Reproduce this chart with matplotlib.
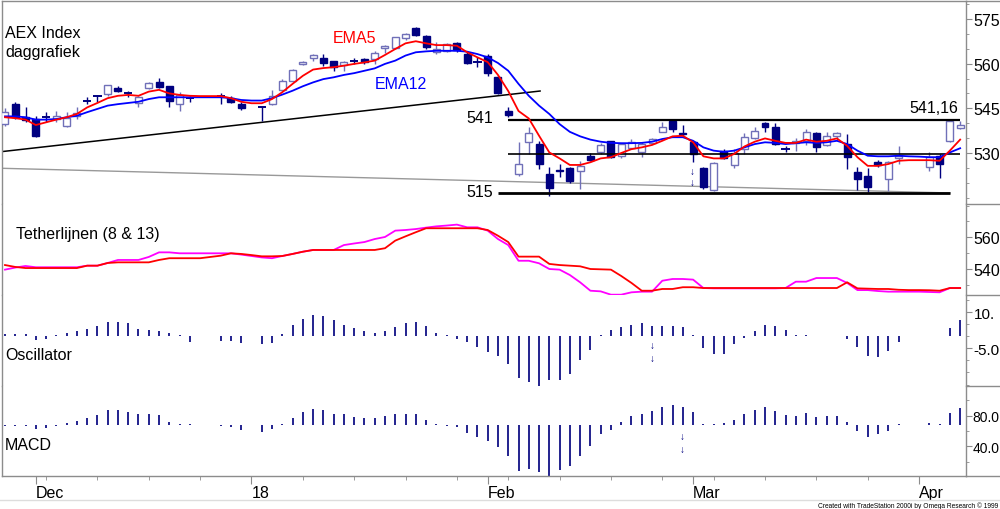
import numpy as np
import pandas as pd
import matplotlib
matplotlib.use('Agg')
import matplotlib.pyplot as plt
from matplotlib.lines import Line2D
from matplotlib.ticker import MultipleLocator, FixedLocator

plt.rcParams['font.family'] = ['Liberation Sans', 'DejaVu Sans']

nan = np.nan

# trading days, late Nov 2017 .. early Apr 2018 (holidays kept as empty bars)
dates = pd.bdate_range('2017-11-28', '2018-04-06')

opens = [539.7, 546.4, 542.0, 541.4, 542.0, 541.4, 539.1, 542.4, 547.4, 549.0,
         549.8, 551.8, 550.0, 546.8, 551.8, 553.8, 552.5, 546.4, 548.5, nan,
         nan, 549.1, 548.5, 546.4, nan, 545.4, 546.4, 551.2, 554.3, 559.8,
         562.0, 561.8, 560.9, 559.5, 560.8, 561.5, 561.5, 565.1, 565.1, 568.5,
         571.8, 569.4, 564.0, 564.3, 567.0, 563.2, 560.4, 562.5, 555.4, 544.2,
         523.0, 533.8, 533.0, 523.0, 524.2, 524.9, 523.9, 528.9, 530.4, 534.1,
         529.1, 531.6, 530.2, 533.5, 536.9, 540.8, 536.8, 533.6, 524.9, 517.7,
         530.8, 526.0, 531.3, 535.0, 540.0, 538.6, 531.3, 533.5, 534.1, 536.7,
         532.7, 535.6, 533.0, 523.7, 522.4, 527.1, 521.3, 528.2, nan, nan,
         525.2, 528.9, 534.1, 538.3]
highs = [545.1, 547.1, 545.5, 542.4, 543.8, 544.1, 543.8, 545.4, 548.8, 549.5,
         552.8, 552.5, 550.8, 549.0, 553.8, 555.2, 552.5, 550.5, 549.2, nan,
         nan, 550.0, 549.2, 547.1, nan, 545.6, 551.2, 554.8, 558.3, 561.0,
         563.2, 563.2, 561.0, 561.0, 561.8, 561.8, 564.1, 566.4, 569.0, 570.2,
         572.3, 569.6, 567.3, 567.0, 567.3, 564.0, 562.1, 563.2, 555.8, 545.4,
         533.8, 538.6, 534.1, 525.2, 526.3, 525.2, 527.4, 529.9, 533.5, 534.1,
         533.5, 534.8, 533.7, 535.2, 540.5, 541.5, 539.5, 534.1, 525.2, 527.1,
         531.3, 531.3, 536.6, 538.8, 540.5, 540.0, 532.4, 535.0, 538.2, 537.2,
         536.9, 537.2, 536.4, 525.2, 524.9, 527.7, 527.4, 532.4, nan, nan,
         530.4, 529.7, 541.2, 540.8]
lows = [539.1, 541.4, 540.5, 535.4, 540.4, 540.4, 538.7, 541.4, 546.4, 547.0,
        549.2, 550.5, 548.8, 545.4, 551.5, 551.8, 545.4, 544.1, 547.2, nan,
        nan, 546.4, 546.8, 544.4, nan, 540.6, 546.0, 550.9, 554.0, 559.4,
        561.0, 559.3, 557.6, 557.6, 559.9, 560.0, 560.0, 563.4, 564.8, 568.0,
        569.2, 564.8, 563.2, 563.8, 564.0, 559.9, 558.8, 556.0, 549.8, 542.1,
        522.4, 529.7, 524.6, 515.7, 521.8, 520.0, 517.9, 527.3, 529.7, 528.3,
        528.3, 531.2, 528.6, 532.9, 536.9, 536.9, 535.8, 526.9, 517.8, 517.4,
        527.9, 524.9, 529.6, 534.6, 537.0, 532.6, 530.2, 530.8, 532.6, 530.2,
        532.2, 534.3, 524.6, 517.7, 516.8, 525.4, 517.4, 526.3, nan, nan,
        524.0, 521.5, 533.8, 538.0]
closes = [543.8, 542.1, 541.0, 535.7, 542.0, 542.4, 541.7, 543.4, 547.4, 549.0,
          552.8, 550.8, 550.0, 548.8, 553.5, 552.2, 547.4, 549.5, 548.5, nan,
          nan, 549.1, 547.2, 545.1, nan, 545.4, 549.2, 554.2, 558.0, 560.6,
          562.9, 560.1, 558.8, 560.6, 560.8, 560.6, 563.4, 566.0, 568.8, 569.9,
          569.6, 565.5, 565.0, 566.5, 564.7, 560.2, 560.4, 556.8, 550.0, 542.8,
          526.3, 536.6, 526.3, 518.2, 524.0, 520.5, 525.7, 527.8, 532.7, 528.6,
          533.0, 533.8, 533.0, 534.6, 538.6, 538.1, 536.5, 529.7, 518.5, 526.6,
          528.2, 529.9, 535.3, 537.5, 538.6, 533.0, 531.3, 534.0, 537.1, 531.9,
          535.6, 536.7, 528.6, 521.3, 518.5, 526.0, 527.1, 529.1, nan, nan,
          528.6, 526.3, 540.8, 539.4]

ema5 = [542.0, 541.7, 541.2, 539.4, 540.3, 541.2, 542.0, 543.1, 545.3, 546.8,
        548.4, 549.2, 549.5, 549.2, 550.6, 551.2, 550.0, 549.5, 549.2, 549.1,
        549.1, 549.1, 548.4, 547.2, 546.7, 546.7, 548.1, 550.4, 553.2, 555.9,
        558.0, 558.5, 558.8, 559.3, 559.9, 560.4, 561.0, 562.9, 564.9, 566.8,
        567.5, 566.8, 566.2, 566.2, 566.0, 563.8, 562.1, 560.5, 556.2, 550.8,
        544.1, 541.6, 535.8, 530.2, 528.2, 526.0, 526.0, 526.9, 528.2, 528.6,
        530.0, 531.3, 531.9, 532.7, 534.1, 535.6, 535.8, 533.6, 528.9, 528.2,
        528.2, 529.7, 532.2, 533.8, 534.9, 534.1, 533.4, 533.4, 534.5, 533.8,
        534.1, 534.9, 532.4, 528.6, 525.7, 525.7, 526.3, 527.4, 527.6, 527.6,
        527.6, 527.4, 530.8, 534.5]
ema12 = [542.3, 542.3, 542.0, 541.2, 541.2, 541.4, 542.0, 542.5, 543.7, 544.8,
         545.9, 546.4, 546.8, 547.2, 548.1, 548.7, 548.7, 548.7, 548.7, 548.7,
         548.7, 548.7, 548.4, 547.8, 547.6, 547.6, 548.4, 549.6, 550.9, 552.4,
         553.7, 554.8, 555.4, 556.2, 556.8, 557.6, 558.4, 559.9, 561.0, 562.7,
         563.8, 564.1, 564.3, 564.3, 564.3, 564.0, 563.2, 562.1, 560.2, 557.6,
         553.2, 549.2, 545.9, 543.1, 539.7, 537.1, 535.6, 534.5, 533.8, 533.4,
         533.3, 533.3, 533.4, 533.8, 534.7, 535.3, 535.3, 534.1, 531.9, 530.8,
         530.4, 530.8, 531.9, 533.0, 533.6, 533.4, 533.0, 533.3, 533.6, 533.4,
         533.6, 534.1, 533.0, 530.8, 529.1, 528.9, 528.9, 529.1, 528.9, 528.8,
         528.6, 528.6, 530.2, 531.6]

tether13 = [542.5, 541.3, 540.6, 540.6, 540.6, 540.6, 540.6, 540.6, 542.1, 542.1,
            543.8, 544.2, 544.2, 544.2, 544.2, 545.7, 546.8, 546.8, 546.8, 546.8,
            547.6, 548.4, 549.9, 549.5, 548.8, 548.0, 548.0, 548.2, 549.5, 550.9,
            552.0, 552.0, 552.0, 552.0, 552.0, 552.0, 552.0, 553.1, 557.9, 560.6,
            563.2, 565.7, 565.7, 565.7, 565.7, 565.7, 565.7, 564.6, 561.0, 557.0,
            547.8, 547.8, 547.8, 543.2, 542.5, 542.1, 541.7, 540.0, 539.8, 539.6,
            535.6, 531.2, 526.3, 526.3, 527.4, 527.4, 528.5, 528.5, 528.0, 528.0,
            528.0, 528.0, 528.0, 528.0, 528.0, 528.0, 528.0, 528.0, 528.0, 528.0,
            528.0, 528.0, 531.6, 527.8, 527.6, 527.4, 527.4, 526.9, 526.7, 526.7,
            526.6, 526.3, 528.0, 528.0]
tether8 = [539.6, 540.9, 541.9, 541.1, 541.1, 541.1, 541.1, 541.1, 542.1, 542.1,
           543.8, 545.7, 545.7, 545.7, 547.6, 550.5, 550.5, 549.9, 549.9, 549.9,
           549.9, 549.9, 549.9, 549.1, 548.2, 547.3, 546.8, 548.2, 549.5, 550.9,
           552.0, 552.0, 552.0, 555.1, 556.1, 557.0, 558.9, 560.2, 564.2, 564.6,
           565.2, 566.1, 566.9, 567.4, 568.0, 566.3, 566.3, 564.2, 558.9, 555.1,
           545.2, 545.2, 543.6, 540.0, 539.6, 536.2, 531.6, 526.3, 525.9, 523.8,
           523.8, 525.3, 525.7, 525.7, 532.6, 533.7, 533.7, 533.3, 528.0, 527.8,
           527.8, 527.8, 527.8, 527.8, 527.8, 527.8, 528.0, 532.0, 532.0, 534.3,
           534.3, 534.3, 531.2, 526.7, 526.7, 526.1, 525.7, 525.7, 525.7, 525.7,
           525.5, 525.3, 528.0, 528.0]

oscillator = [0.8, 0.8, 0.8, -1.5, -1.2, 0.5, 1.5, 2.2, 3.1, 4.2,
              5.9, 5.9, 5.6, 2.9, 2.6, 2.2, 1.5, 0.4, -2.2, nan,
              nan, -1.9, -1.9, -2.6, nan, -3.4, -2.6, 0.8, 4.5, 7.2,
              8.9, 8.3, 6.7, 4.5, 3.3, 2.2, 1.5, 2.0, 3.8, 5.3,
              6.1, 4.2, 1.5, 0.4, -1.0, -2.5, -4.4, -6.6, -8.2, -11.3,
              -17.1, -18.9, -20.5, -18.2, -18.2, -15.7, -10.0, -5.7, 0.7, 2.7,
              3.8, 4.8, 5.5, 4.1, 4.4, 4.4, 3.7, 0.7, -4.8, -7.5,
              -7.5, -3.1, -0.8, 2.3, 4.8, 4.4, 2.7, 0.7, 0.4, 0.3,
              0.3, 0.3, -1.1, -4.5, -8.2, -8.6, -6.1, -2.5, nan, nan,
              0.3, 0.3, 3.4, 6.6]

macd_base = 67.8
macd_hist = [-1.3, -1.3, -1.3, -5.2, -3.3, -1.3, 3.0, 4.8, 8.8, 13.1,
             19.2, 19.2, 17.4, 14.0, 14.0, 13.1, 4.3, 1.7, 0.9, nan,
             nan, -1.3, -3.0, -6.5, nan, -9.2, -4.8, 1.7, 9.5, 17.4,
             20.5, 19.2, 14.8, 14.0, 10.5, 8.8, 9.5, 11.4, 14.0, 14.8,
             14.0, 6.9, 0.9, -1.3, -3.0, -10.8, -16.1, -20.5, -29.1, -40.1,
             -59.7, -57.5, -61.8, -66.3, -58.4, -53.2, -40.9, -27.8, -12.2, -6.1,
             4.3, 11.4, 14.4, 17.9, 23.1, 26.1, 23.1, 16.6, 0.9, 0.9,
             2.6, 6.9, 14.4, 20.0, 23.1, 18.7, 13.1, 12.2, 15.3, 10.1,
             11.4, 12.2, 4.3, -7.4, -16.1, -11.8, -7.4, 0.9, nan, nan,
             2.6, 0.9, 15.7, 21.8]

# analyst lines: (bar index, price) end points
support_x = [-0.5, 52.1]
support_y = [530.4, 550.8]
grey_x = [-0.5, 92.0]
grey_y = [524.9, 516.6]
level_hi = 541.16
level_mid = 529.6
level_lo = 516.6

NAVY = '#000080'
HOLLOW = '#7070b8'
GRAY = '#8c8c8c'
BARBLUE = '#22228e'
W, H = 1000, 510
FS = 11.5

fig = plt.figure(figsize=(10, 5.1), dpi=100)


def box(top, bottom):
    return [2 / W, 1 - bottom / H, 964 / W, (bottom - top) / H]


ax_p = fig.add_axes(box(2, 205))
ax_t = fig.add_axes(box(205, 296))
ax_o = fig.add_axes(box(296, 387))
ax_m = fig.add_axes(box(387, 477))
axes = [ax_p, ax_t, ax_o, ax_m]

n = len(dates)
x = np.arange(n)

# --- price panel ---
ax_p.plot(support_x, support_y, color='black', lw=1.1, zorder=1)
ax_p.plot(grey_x, grey_y, color='#999999', lw=1.0, zorder=1)
for i in range(n):
    o, h, l, c = opens[i], highs[i], lows[i], closes[i]
    if np.isnan(o):
        continue
    if c == o:
        ax_p.vlines(i, l, h, color=NAVY, lw=1, zorder=2)
        ax_p.hlines(o, i - 0.4, i + 0.4, color=NAVY, lw=1.4, zorder=3)
        continue
    up = c > o
    col = HOLLOW if up else NAVY
    ax_p.vlines(i, l, h, color=col, lw=1, zorder=2)
    ax_p.bar(i, abs(c - o), bottom=min(o, c), width=0.68,
             facecolor='white' if up else NAVY, edgecolor=col, lw=1, zorder=3)

ax_p.hlines(level_hi, 49, 93, color='black', lw=1.6, zorder=4)
ax_p.hlines(level_mid, 49, 93, color='black', lw=1.2, zorder=4)
ax_p.hlines(level_lo, 48, 92, color='black', lw=2.0, zorder=4)
ax_p.plot(x, ema12, color='#0000ff', lw=1.3, zorder=5)
ax_p.plot(x, ema5, color='#ff0000', lw=1.3, zorder=6)
ax_p.set_ylim(512.9, 581.0)

ax_p.text(47.5, 540.3, '541', ha='right', va='baseline', fontsize=FS)
ax_p.text(47.5, 515.7, '515', ha='right', va='baseline', fontsize=FS)
ax_p.text(92.8, 543.8, '541,16', ha='right', va='baseline', fontsize=FS)
for yy in [524.0, 520.3]:
    ax_p.text(66.9, yy, '\u2193', ha='center', va='center', fontsize=7,
              fontweight='bold', color=NAVY)

# --- tether panel ---
ax_t.plot(x, tether8, color='#ff00ff', lw=1.3)
ax_t.plot(x, tether13, color='#ff0000', lw=1.3)
ax_t.set_ylim(523.6, 581.0)

# --- oscillator panel ---
osc = np.array(oscillator)
ok = ~np.isnan(osc)
ax_o.vlines(x[ok], 0, osc[ok], color=BARBLUE, lw=1.4)
ax_o.set_ylim(-20.6, 17.1)
for yy in [-3.8, -9.1]:
    ax_o.text(63.0, yy, '\u2193', ha='center', va='center', fontsize=7,
              fontweight='bold', color=NAVY)

# --- MACD panel ---
mh = np.array(macd_hist)
ok = ~np.isnan(mh)
ax_m.vlines(x[ok], macd_base, macd_base + mh[ok], color=BARBLUE, lw=1.4)
ax_m.set_ylim(1.2, 118.8)
for yy in [53.5, 36.5]:
    ax_m.text(65.9, yy, '\u2193', ha='center', va='center', fontsize=7,
              fontweight='bold', color=NAVY)

# axis styling (labels as far as the scale column shows them)
ytick_sets = [
    (ax_p, [530, 545, 560, 575], None, 5, FS, 1.2),
    (ax_t, [540, 560], None, 10, FS, 1.2),
    (ax_o, [-5, 10], ['-5.0', '10.'], 5, 11, 1.2),
    (ax_m, [40, 80], ['40.0', '80.0'], 20, 10, 0.6),
]
for ax, major, labels, minor, fs, pad in ytick_sets:
    ax.set_xlim(-0.29, 93.57)
    ax.yaxis.set_major_locator(FixedLocator(major))
    if labels:
        ax.set_yticks(major, labels)
    ax.yaxis.set_minor_locator(MultipleLocator(minor))
    ax.tick_params(axis='y', which='both', left=False, labelleft=False,
                   right=True, labelright=True, direction='out',
                   color=GRAY, labelcolor='black', labelsize=fs, pad=pad)
    ax.tick_params(axis='y', which='major', length=4.3)
    ax.tick_params(axis='y', which='minor', length=2.5)
    for s in ax.spines.values():
        s.set_color(GRAY)
        s.set_linewidth(1)
    ax.spines['top'].set_visible(ax is ax_p)
    ax.spines['bottom'].set_visible(ax is ax_m)
    if ax is not ax_m:
        ax.tick_params(axis='x', which='both', bottom=False, labelbottom=False)

# date axis: month starts labelled, Mondays as small ticks
month_idx = [i for i in range(1, n) if dates[i].month != dates[i - 1].month]
month_lbl = [dates[i].strftime('%y') if dates[i].month == 1 else dates[i].strftime('%b')
             for i in month_idx]
monday_idx = [i for i in range(n) if dates[i].weekday() == 0]
ax_m.set_xticks(month_idx, month_lbl, ha='left')
ax_m.set_xticks(monday_idx, minor=True)
ax_m.tick_params(axis='x', which='both', direction='out', color=GRAY,
                 labelcolor='black', labelsize=FS, pad=0.5)
ax_m.tick_params(axis='x', which='major', length=5.8)
ax_m.tick_params(axis='x', which='minor', length=2.9)

# separators in the right-hand scale column
for ypx in [2, 205, 296, 387, 477]:
    fig.add_artist(Line2D([966 / W, 1.0], [1 - ypx / H] * 2, transform=fig.transFigure,
                          color=GRAY, lw=1))
fig.add_artist(Line2D([0, 1.0], [1 - 501 / H] * 2, transform=fig.transFigure,
                      color='#dddddd', lw=1))


def ftext(px, py, s, **kw):
    fig.text(px / W, 1 - py / H, s, va='baseline', fontsize=FS, **kw)


ftext(5, 37.5, 'AEX Index')
ftext(5, 57.5, 'daggrafiek')
ftext(333, 43.3, 'EMA5', color='#ff0000')
ftext(375, 89.3, 'EMA12', color='#0000ff')
ftext(16, 239.3, 'Tetherlijnen (8 & 13)')
ftext(5, 360, 'Oscillator')
ftext(5, 450, 'MACD')
fig.text(998 / W, 1 - 508 / H, 'Created with TradeStation 2000i by Omega Research \u00a9 1999',
         ha='right', va='baseline', fontsize=4.8)

fig.savefig('out.png', dpi=100, facecolor='white')
